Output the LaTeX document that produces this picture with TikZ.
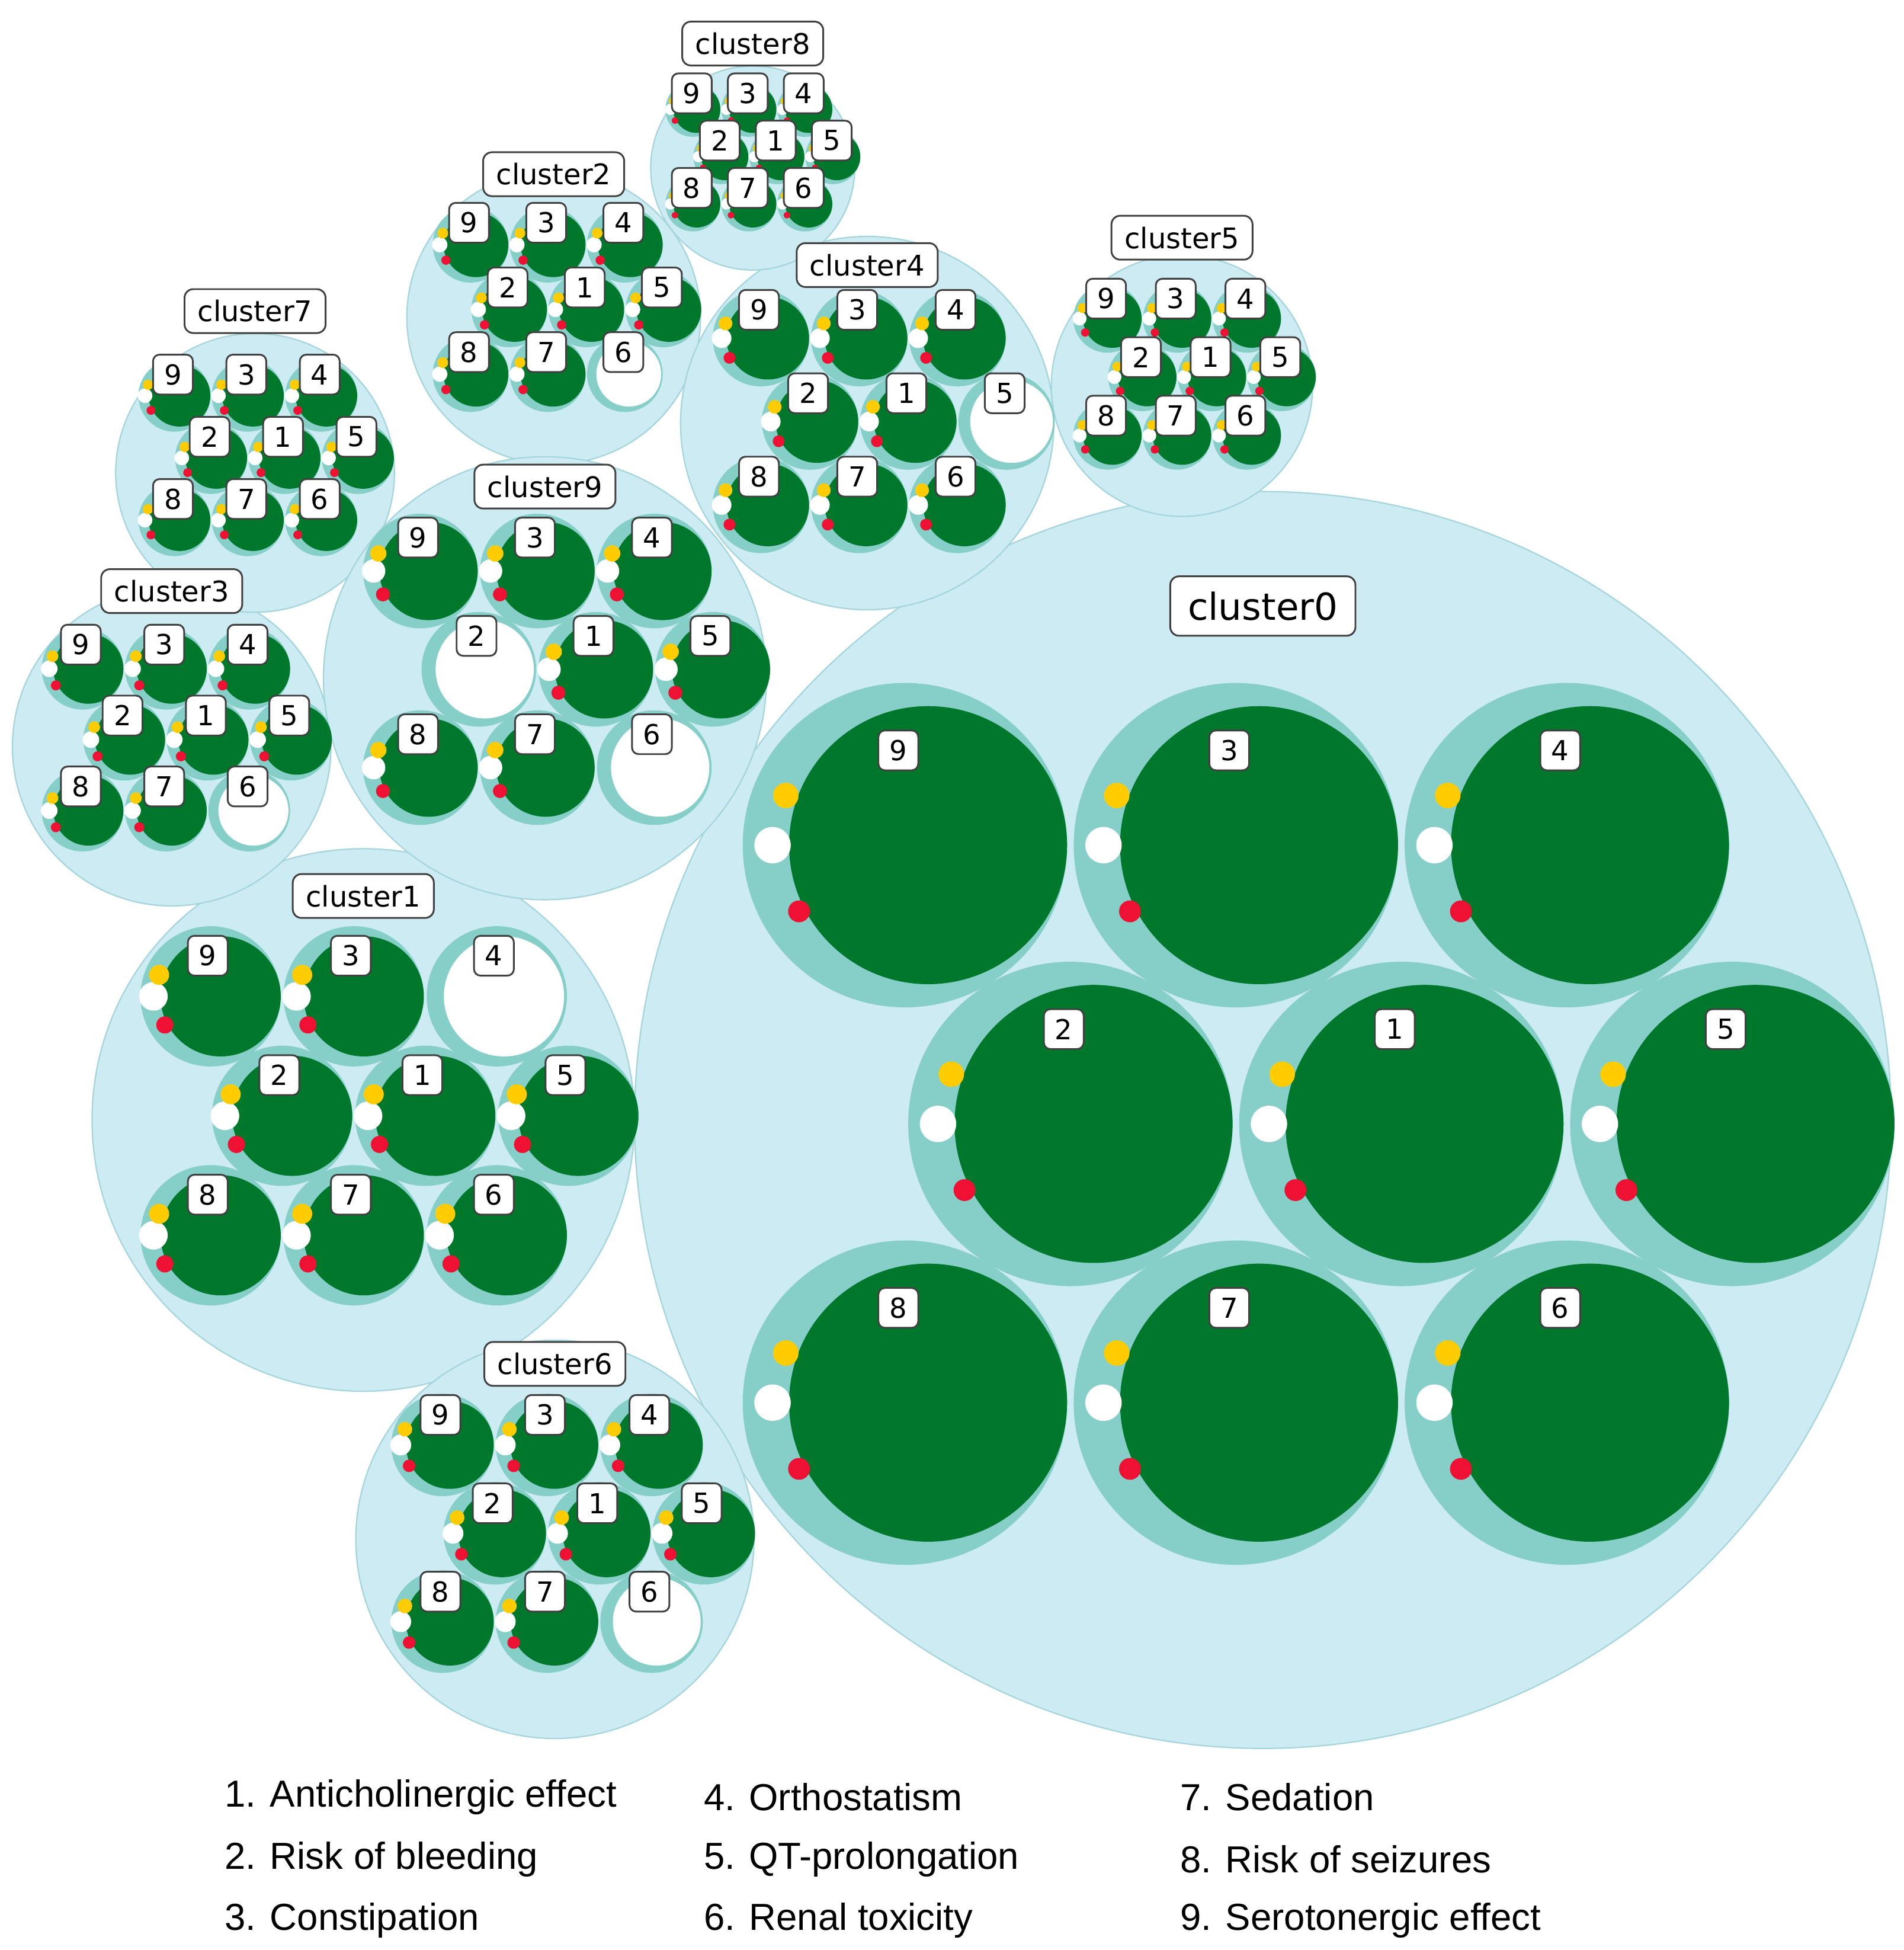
\documentclass[tikz,border=0pt]{standalone}
\usepackage{fontspec}
\setmainfont{DejaVu Sans}
\newfontfamily\legfont{Liberation Sans}
\usepackage{xstring}
\definecolor{bgblue}{HTML}{CDEBF2}
\definecolor{ringteal}{HTML}{86CFC8}
\definecolor{dgreen}{HTML}{00782B}
\definecolor{ayellow}{HTML}{FFCC00}
\definecolor{ared}{HTML}{EE1133}
\tikzset{
  bg/.style={fill=bgblue, draw=bgblue!80!teal, line width=0.3pt},
  ring/.style={fill=ringteal},
  num/.style={draw=black!75, fill=white, rounded corners=1.5pt, inner sep=1pt, minimum size=3.2mm, font=\fontsize{6.3}{7}\selectfont},
  ttl/.style={draw=black!75, fill=white, rounded corners=2pt, inner xsep=3pt, inner ysep=2.5pt, font=\fontsize{6.5}{8}\selectfont},
  leg/.style={anchor=west, inner sep=0pt, font=\legfont\fontsize{8.6}{10}\selectfont}
}
% id/bx/by/br/ty/lx/ly/sx/sy/white
\def\clusterlist{0/1015/900/505/487/722/603/266/224/x,
  1/292/900/218/720/167/768/115/96/4,
  2/445/255/118/140/377/179/62/52/6,
  3/138/600/128/475/65/518/67/57/6,
  4/697/340/150/213/610/249/79/67/5,
  5/950/310/105/191/889/240/56/47/x,
  6/446/1237/160/1096/354/1137/84/71/6,
  7/205/380/112/250/139/301/59/50/x,
  8/605/135/82/35/556/75/45/38/x,
  9/438/545/178/391/336/432/94/79/26}
\begin{document}
\begin{tikzpicture}[x=0.01cm, y=-0.01cm]
  \useasboundingbox (0,0) rectangle (1530,1567);
  % cluster backgrounds
  \foreach \id/\bx/\by/\br/\ty/\lx/\ly/\sx/\sy/\wl in \clusterlist {
    \fill[bg] (\bx,\by) circle[radius=\br];
  }
  % members
  \foreach \id/\bx/\by/\br/\ty/\lx/\ly/\sx/\sy/\wl in \clusterlist {
    \ifnum\id=0 \def\af{0.55}\else\def\af{1}\fi
    \foreach \n/\gx/\gy in {9/0/0,3/1/0,4/2/0,2/0.5/1,1/1.5/1,5/2.5/1,8/0/2,7/1/2,6/2/2} {
      \pgfmathsetmacro\cx{\lx+\gx*\sx+0.02*\sx}
      \pgfmathsetmacro\cy{\ly+\gy*\sy+0.34*\sy}
      \fill[ring] (\cx,\cy) circle[radius=0.49*\sx];
      \IfSubStr{\wl}{\n}{%
        \fill[white] (\cx+0.05*\sx,\cy) circle[radius=0.42*\sx];
      }{%
        \fill[dgreen] (\cx+0.07*\sx,\cy) circle[radius=0.42*\sx];
        \fill[white] (\cx-0.4*\sx,\cy) circle[radius=0.1*\af*\sx];
        \fill[ayellow] (\cx-0.36*\sx,\cy-0.15*\sx) circle[radius=0.07*\af*\sx];
        \fill[ared] (\cx-0.32*\sx,\cy+0.2*\sx) circle[radius=0.06*\af*\sx];
      }
      \node[num] (c\id-\n) at (\lx+\gx*\sx,\ly+\gy*\sy) {\n};
    }
    \ifnum\id=0
      \node[ttl, font=\fontsize{8.5}{10}\selectfont, inner xsep=4pt, inner ysep=3.5pt] (c\id) at (\bx,\ty) {cluster\id};
    \else
      \node[ttl] (c\id) at (\bx,\ty) {cluster\id};
    \fi
  }
  % legend
  \node[leg] (leg1) at (180,1444) {1. Anticholinergic effect};
  \node[leg] (leg2) at (180,1494) {2. Risk of bleeding};
  \node[leg] (leg3) at (180,1543) {3. Constipation};
  \node[leg] (leg4) at (565,1444) {4. Orthostatism};
  \node[leg] (leg5) at (565,1494) {5. QT-prolongation};
  \node[leg] (leg6) at (565,1543) {6. Renal toxicity};
  \node[leg] (leg7) at (948,1444) {7. Sedation};
  \node[leg] (leg8) at (948,1494) {8. Risk of seizures};
  \node[leg] (leg9) at (948,1543) {9. Serotonergic effect};
\end{tikzpicture}
\end{document}
